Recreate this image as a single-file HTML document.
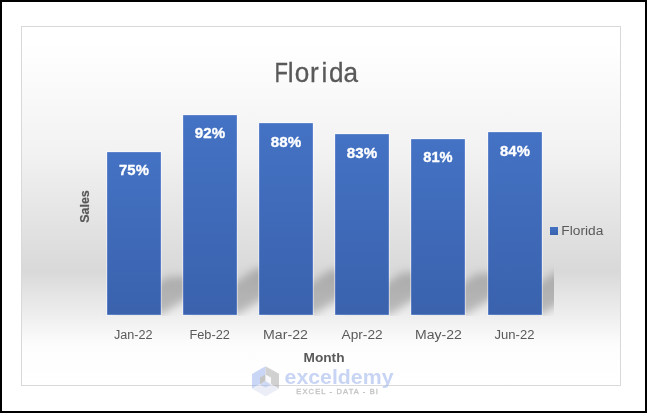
<!DOCTYPE html>
<html><head><meta charset="utf-8">
<style>
html,body{margin:0;padding:0;background:#fff;}
body{width:647px;height:413px;overflow:hidden;font-family:"Liberation Sans",sans-serif;}
svg{display:block;}
text{font-family:"Liberation Sans",sans-serif;}
svg{will-change:transform;}
</style></head><body>
<svg width="647" height="413" viewBox="0 0 647 413">
<defs>
<linearGradient id="bg" x1="0" y1="26" x2="0" y2="386" gradientUnits="userSpaceOnUse">
<stop offset="0" stop-color="#ffffff"/>
<stop offset="0.05" stop-color="#ffffff"/>
<stop offset="0.35" stop-color="#f2f2f2"/>
<stop offset="0.68" stop-color="#d9d9d9"/>
<stop offset="0.89" stop-color="#fdfdfd"/>
<stop offset="1" stop-color="#ffffff"/>
</linearGradient>
<linearGradient id="bar" x1="0" y1="0" x2="0" y2="1">
<stop offset="0" stop-color="#4472c4"/>
<stop offset="1" stop-color="#3a62ad"/>
</linearGradient>
<filter id="blur" x="-50%" y="-50%" width="200%" height="200%"><feGaussianBlur stdDeviation="4"/></filter>
<clipPath id="plot"><rect x="95" y="90" width="459" height="226"/></clipPath>
</defs>
<rect x="0" y="0" width="647" height="413" fill="#000"/>
<rect x="2" y="2" width="643" height="409" fill="#fff"/>
<rect x="21.5" y="26.5" width="599" height="359" fill="url(#bg)" stroke="#d9d9d9" stroke-width="1"/>

<!-- title -->
<g font-size="27.5" fill="#595959" stroke="#595959" stroke-width="0.3"><text transform="scale(0.8,1)" x="343.02" y="82">F</text><text transform="scale(0.95,1)" x="302.99 310.14 326.42 338.32 346.45 361.51" y="82">lorida</text></g>

<!-- shadows -->
<g clip-path="url(#plot)" fill="#000" fill-opacity="0.22" filter="url(#blur)">
<path d="M107.9 314.3 L161.9 314.3 L221.3 276.7 L167.3 276.7 Z"/>
<path d="M184.1 314.3 L238.1 314.3 L311.0 268.2 L257.0 268.2 Z"/>
<path d="M260.3 314.3 L314.3 314.3 L384.0 270.2 L330.0 270.2 Z"/>
<path d="M336.5 314.3 L390.5 314.3 L456.3 272.7 L402.3 272.7 Z"/>
<path d="M412.7 314.3 L466.7 314.3 L530.9 273.7 L476.9 273.7 Z"/>
<path d="M488.9 314.3 L542.9 314.3 L609.5 272.2 L555.5 272.2 Z"/>
</g>

<!-- bars -->
<g fill="#fff" fill-opacity="0.4">
<rect x="106" y="151" width="56" height="165"/>
<rect x="182" y="114" width="56" height="202"/>
<rect x="258" y="122" width="56" height="194"/>
<rect x="334" y="133" width="56" height="183"/>
<rect x="410" y="138" width="56" height="178"/>
<rect x="487" y="131" width="56" height="185"/>
</g>
<g fill="url(#bar)" stroke="#2a5bbd" stroke-opacity="0.55" stroke-width="1">
<rect x="107.5" y="152.5" width="53" height="162"/>
<rect x="183.5" y="115.5" width="53" height="199"/>
<rect x="259.5" y="123.5" width="53" height="191"/>
<rect x="335.5" y="134.5" width="53" height="180"/>
<rect x="411.5" y="139.5" width="53" height="175"/>
<rect x="488.5" y="132.5" width="53" height="182"/>
</g>

<!-- data labels -->
<g fill="#fff" font-size="15.5" font-weight="bold" text-anchor="middle" stroke="#fff" stroke-width="0.35">
<text x="134" y="175" textLength="29.8" lengthAdjust="spacingAndGlyphs">75%</text>
<text x="210" y="138" textLength="30.3" lengthAdjust="spacingAndGlyphs">92%</text>
<text x="286" y="147" textLength="30.3" lengthAdjust="spacingAndGlyphs">88%</text>
<text x="362" y="158" textLength="30.3" lengthAdjust="spacingAndGlyphs">83%</text>
<text x="438" y="162" textLength="29.3" lengthAdjust="spacingAndGlyphs">81%</text>
<text x="515" y="156" textLength="29.8" lengthAdjust="spacingAndGlyphs">84%</text>
</g>

<!-- x labels -->
<g fill="#595959" font-size="12.5" text-anchor="middle">
<text x="133.3" y="339" textLength="38.6" lengthAdjust="spacingAndGlyphs">Jan-22</text>
<text x="209.7" y="339" textLength="40.5" lengthAdjust="spacingAndGlyphs">Feb-22</text>
<text x="285.5" y="339" textLength="44.8" lengthAdjust="spacingAndGlyphs">Mar-22</text>
<text x="362.1" y="339" textLength="41" lengthAdjust="spacingAndGlyphs">Apr-22</text>
<text x="438.4" y="339" textLength="46.8" lengthAdjust="spacingAndGlyphs">May-22</text>
<text x="514.5" y="339" textLength="39.9" lengthAdjust="spacingAndGlyphs">Jun-22</text>
</g>

<!-- axis titles -->
<text x="324" y="361.6" fill="#595959" font-size="12" font-weight="bold" text-anchor="middle" textLength="41" lengthAdjust="spacingAndGlyphs">Month</text>
<text transform="translate(89,206.5) rotate(-90)" x="0" y="0" fill="#595959" font-size="12.5" font-weight="bold" text-anchor="middle" textLength="32.5" lengthAdjust="spacingAndGlyphs" stroke="#595959" stroke-width="0.2">Sales</text>

<!-- legend -->
<rect x="550" y="227" width="8" height="8" fill="url(#bar)"/>
<text x="561.3" y="234.6" fill="#595959" font-size="12" textLength="42" lengthAdjust="spacingAndGlyphs">Florida</text>

<!-- watermark -->
<g opacity="0.5">
<polygon points="265.5,366.3 252,374 252,388.7 265.5,381 265.5,366.3" fill="#95afef"/>
<polygon points="265.5,366.3 279,373.8 279,388.7 265.5,381" fill="#a5a5a5"/>
<polygon points="252,388.7 265.5,381 279,388.7 265.5,396.5" fill="#d9dfef"/>
<polygon points="260,377.5 265.5,374.5 265.5,381 260,384.5" fill="#8d8d8d"/>
<polygon points="265.5,374.5 271,377.5 271,384.5 265.5,381" fill="#f4f4f8"/>
<polygon points="260,384.5 265.5,381 271,384.5 265.5,387.8" fill="#9fb5ea"/>
<text x="284.6" y="384.3" font-size="21" font-weight="bold" fill="#93abe9" textLength="108.9" lengthAdjust="spacingAndGlyphs">exceldemy</text>
<text x="296.3" y="393.9" font-size="7.5" fill="#8a8a8a" stroke="#8a8a8a" stroke-width="0.35" textLength="81.6" lengthAdjust="spacing">EXCEL - DATA - BI</text>
</g>
</svg>
</body></html>
